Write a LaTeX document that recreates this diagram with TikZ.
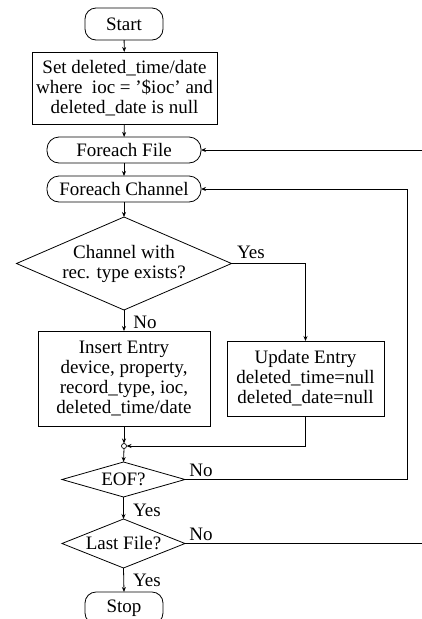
\documentclass[tikz,border=0pt]{standalone}
\usepackage{fontspec}
\setmainfont{Liberation Serif}
\usetikzlibrary{shapes.geometric,arrows.meta}
\begin{document}
\begin{tikzpicture}[x=1pt,y=-1pt,
  font=\fontsize{19}{20}\selectfont,
  line width=0.8pt,
  every node/.style={inner sep=0pt,outer sep=0pt},
  arr/.style={-{Stealth[length=5pt,width=4pt]}},
  term/.style={draw,rounded corners=11pt,align=center},
  proc/.style={draw,align=center},
  dia/.style={draw,diamond,inner sep=0pt},
  lbl/.style={align=center}]
\useasboundingbox (0,0) rectangle (422,619);
% nodes
\node[term,minimum width=78pt,minimum height=32pt] (start) at (124,24) {Start};
\node[proc,minimum width=185pt,minimum height=72pt] (set) at (124.5,88) {Set deleted\_time/date\\where\ \ ioc = '\$ioc' and\\deleted\_date is null};
\node[term,rounded corners=12pt,minimum width=154pt,minimum height=26pt] (file) at (124,150) {Foreach File};
\node[term,rounded corners=12pt,minimum width=154pt,minimum height=26pt] (chan) at (124,189) {Foreach Channel};
\node[dia,minimum width=215pt,minimum height=93pt] (dec) at (124,263.5) {};
\node[lbl] (dect) at (124,263.5) {Channel with\\rec. type exists?};
\node[proc,minimum width=172pt,minimum height=95pt] (ins) at (124,378.5) {Insert Entry\\device, property,\\record\_type, ioc,\\deleted\_time/date};
\node[proc,minimum width=157pt,minimum height=75pt] (upd) at (305.5,378.5) {Update Entry\\deleted\_time=null\\deleted\_date=null};
\node[draw,circle,minimum size=5pt,line width=0.7pt] (mrg) at (124,446) {};
\node[dia,minimum width=123pt,minimum height=35pt] (eof) at (123.5,479.5) {};
\node[lbl] (eoft) at (123.5,479.5) {EOF?};
\node[dia,minimum width=123pt,minimum height=49pt] (last) at (123.5,543.5) {};
\node[lbl] (lastt) at (123.5,543.5) {Last File?};
\node[term,minimum width=78pt,minimum height=32pt] (stop) at (124,608) {Stop};
% labels
\node[lbl] (yes1) at (251,252) {Yes};
\node[lbl] (no1) at (145,322) {No};
\node[lbl] (no2) at (201,470) {No};
\node[lbl] (yes2) at (147,510) {Yes};
\node[lbl] (no3) at (201,534) {No};
\node[lbl] (yes3) at (147,580) {Yes};
% coordinates
\coordinate (eofR) at (407,479.5);
\coordinate (lastR) at (422,543.5);
\coordinate (fileR) at (422,150);
% connectors
\draw[arr] (start) -- (set);
\draw[arr] (set) -- (file);
\draw[arr] (file) -- (chan);
\draw[arr] (chan) -- (dec);
\draw[arr] (dec.south) -- (ins.north);
\draw[arr] (dec.east) -| (upd.north);
\draw[arr] (ins.south) -- (mrg.north);
\draw[arr] (upd.south) |- (mrg.east);
\draw[arr] (mrg.south) -- (eof.north);
\draw[arr] (eof.east) -- (eofR) |- (chan.east);
\draw[arr] (eof.south) -- (last.north);
\draw (last.east) -- (lastR);
\draw[arr] (fileR) -- (file.east);
\draw[arr] (last.south) -- (stop.north);
\end{tikzpicture}
\end{document}
